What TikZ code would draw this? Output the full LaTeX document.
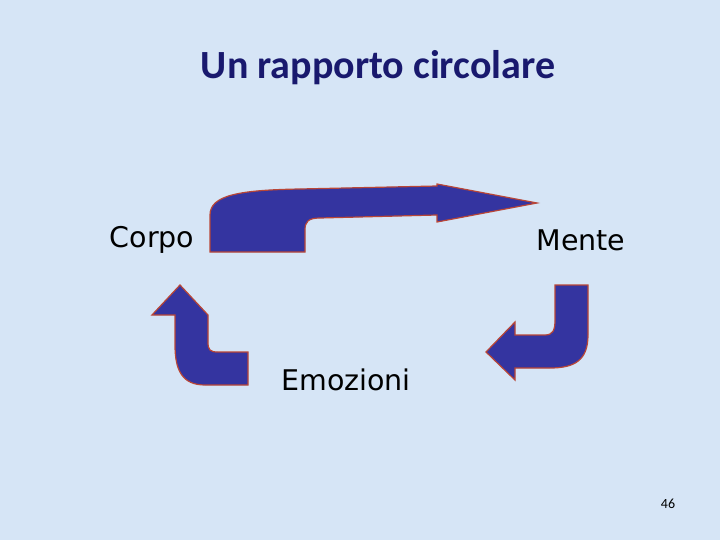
\documentclass[tikz,border=0pt]{standalone}
\usepackage{fontspec}
\setmainfont{Carlito}
\newfontfamily\comic{DejaVu Sans}
\definecolor{bgblue}{RGB}{214,229,246}
\definecolor{titleblue}{RGB}{25,25,110}
\definecolor{arrowfill}{RGB}{52,52,160}
\definecolor{arrowedge}{RGB}{185,70,55}
\tikzset{bigarrow/.style={fill=arrowfill,draw=arrowedge,line width=1.2pt,line join=miter},
lab/.style={font=\comic\fontsize{28.5}{32}\selectfont,text=black}}
\begin{document}
\begin{tikzpicture}[x=1pt,y=-1pt]
\fill[bgblue] (0,0) rectangle (720,540);
\useasboundingbox (0,0) rectangle (720,540);
\node[font=\bfseries\fontsize{40}{46}\selectfont,text=titleblue] (title) at (378,68) {Un rapporto circolare};
\node[lab] (corpo) at (152,240) {Corpo};
\node[lab] (mente) at (581,240) {Mente};
\node[lab] (emo) at (346,380) {Emozioni};
\node[font=\fontsize{14}{16}\selectfont] (pg) at (668,504) {46};
\draw[bigarrow] (210,252) -- (210,215) .. controls (210,195) and (240,190) .. (300,189) -- (437,186) -- (437,184) -- (537,203) -- (437,222) -- (437,215) -- (320,218) .. controls (308,218) and (305,222) .. (305,230) -- (305,252) -- cycle;
\draw[bigarrow] (555,285) -- (588,285) -- (588,335) .. controls (588,360) and (575,368) .. (550,368) -- (515,368) -- (515,380) -- (486,352) -- (515,322) -- (515,335) -- (545,335) .. controls (553,335) and (555,330) .. (555,320) -- cycle;
\draw[bigarrow] (248,352) -- (248,385) -- (205,385) .. controls (182,385) and (175,370) .. (175,345) -- (175,315) -- (152,315) -- (180,285) -- (208,315) -- (208,342) .. controls (208,350) and (210,352) .. (218,352) -- cycle;
\end{tikzpicture}
\end{document}
